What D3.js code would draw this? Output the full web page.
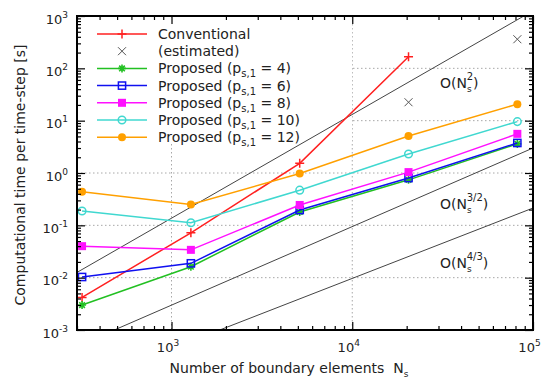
<!DOCTYPE html>
<html>
<head>
<meta charset="utf-8">
<script src="https://cdn.jsdelivr.net/npm/d3@7"></script>
<style>
  body { margin: 0; background: #fff; }
  #chart { width: 548px; height: 381px; }
  text { font-family: "DejaVu Sans", sans-serif; fill: #222; }
</style>
</head>
<body>
<div id="chart"></div>
<script>
// data
const Ns = [320, 1280, 5120, 20480, 81920];
const conventional = [0.0042, 0.072, 1.53, 167];
const estimatedNs = [20480, 81920];
const estimated = [22.5, 360];
const proposedP4 = [0.0030, 0.0162, 0.18, 0.74, 3.6];
const proposedP6 = [0.0103, 0.0188, 0.196, 0.80, 3.75];
const proposedP8 = [0.040, 0.034, 0.245, 1.04, 5.6];
const proposedP10 = [0.188, 0.112, 0.47, 2.3, 9.6];
const proposedP12 = [0.44, 0.25, 0.98, 5.1, 20.7];
const proposedP = ["4", "6", "8", "10", "12"];

const xTickValues = [1e3, 1e4, 1e5];
const yTickValues = [1e-3, 1e-2, 1e-1, 1e0, 1e1, 1e2, 1e3];
const xTickExp = ["3", "4", "5"];
const yTickExp = ["-3", "-2", "-1", "0", "1", "2", "3"];

// guide lines O(Ns^k), two end points each
const orderLabels = ["2", "3/2", "4/3"];
const orderLineN = [[300, 1e5], [300, 1e5], [1848, 1e5]];
const orderLineT = [[0.0126, 1260], [4.9e-4, 3.0], [1e-3, 0.214]];

class ScalingChart {
  colorPalette = {
    conventional: "#ff2020",
    estimated: "#555555",
    p4: "#22c022",
    p6: "#1010f0",
    p8: "#ff10ff",
    p10: "#40d8d0",
    p12: "#ffa000",
    guide: "#444444",
    grid: "#a8a8a8",
    border: "#000000",
  };

  config = {
    marginLeft: 77,
    marginTop: 16,
    marginRight: 15,
    marginBottom: 51,
    majorTick: 8,
    minorTick: 4,
    legendX: 97,
    legendY: 34,
    legendRow: 17.2,
    legendLine: 50,
    orderLabelX: 440,
    orderLabelY: [88, 209, 268],
  };

  constructor(id, width, height) {
    this._id = id;
    this._width = width;
    this._height = height;
    this._chartWidth = width - (this.config.marginLeft + this.config.marginRight);
    this._chartHeight = height - (this.config.marginTop + this.config.marginBottom);
  }

  SetupLayout() {
    this._svg = d3.select(`#${this._id}`)
      .append("svg")
      .attr("width", this._width)
      .attr("height", this._height);
    this._svg.append("defs").append("clipPath").attr("id", "plotClip")
      .append("rect")
      .attr("width", this._chartWidth)
      .attr("height", this._chartHeight);
    this._g = this._svg.append("g")
      .attr("transform", `translate(${this.config.marginLeft},${this.config.marginTop})`);
  }

  SetupScales() {
    this._x = d3.scaleLog().domain([300, 1e5]).range([0, this._chartWidth]);
    this._y = d3.scaleLog().domain([1e-3, 1e3]).range([this._chartHeight, 0]);
  }

  MinorTicks(domain) {
    let ticks = [];
    let lo = Math.floor(Math.log10(domain[0]));
    let hi = Math.ceil(Math.log10(domain[1]));
    for (let e = lo; e < hi; e++) {
      for (let m = 2; m <= 9; m++) {
        let v = m * Math.pow(10, e);
        if (v >= domain[0] && v <= domain[1]) ticks.push(v);
      }
    }
    return ticks;
  }

  DrawGrid() {
    let grid = this._g.append("g").attr("class", "grid");
    grid.selectAll(".gx")
      .data(xTickValues.filter((d) => d < 1e5))
      .enter()
      .append("line")
      .attr("x1", (d) => this._x(d))
      .attr("x2", (d) => this._x(d))
      .attr("y1", 0)
      .attr("y2", this._chartHeight);
    grid.selectAll(".gy")
      .data(yTickValues.slice(1, -1))
      .enter()
      .append("line")
      .attr("x1", 0)
      .attr("x2", this._chartWidth)
      .attr("y1", (d) => this._y(d))
      .attr("y2", (d) => this._y(d));
    grid.selectAll("line")
      .attr("stroke", this.colorPalette.grid)
      .attr("stroke-width", 1)
      .attr("stroke-dasharray", "1.5,2.5");

    // the key sits on a white patch that hides the grid
    this._g.append("rect")
      .attr("x", 3)
      .attr("y", 4)
      .attr("width", 272)
      .attr("height", 123)
      .attr("fill", "#fff");
  }

  DrawGuides() {
    let line = d3.line().x((d) => this._x(d[0])).y((d) => this._y(d[1]));
    let guides = this._g.append("g").attr("clip-path", "url(#plotClip)");
    orderLabels.forEach((lab, i) => {
      let pts = orderLineN[i].map((n, j) => [n, orderLineT[i][j]]);
      guides.append("path")
        .attr("d", line(pts))
        .attr("fill", "none")
        .attr("stroke", this.colorPalette.guide)
        .attr("stroke-width", 1);
    });

    orderLabels.forEach((lab, i) => {
      let t = this._svg.append("text")
        .attr("x", this.config.orderLabelX)
        .attr("y", this.config.orderLabelY[i])
        .style("font-size", "14px");
      t.append("tspan").text("O(N");
      t.append("tspan").attr("dy", 4).style("font-size", "9px").text("s");
      t.append("tspan").attr("dx", -5).attr("dy", -12).style("font-size", "10px").text(lab);
      t.append("tspan").attr("dy", 8).text(")");
    });
  }

  Marker(sel, type, color, size) {
    let s = size;
    if (type === "plus") {
      sel.append("path").attr("d", `M${-s},0H${s}M0,${-s}V${s}`)
        .attr("stroke", color).attr("stroke-width", 1.5).attr("fill", "none");
    } else if (type === "cross") {
      sel.append("path").attr("d", `M${-s},${-s}L${s},${s}M${-s},${s}L${s},${-s}`)
        .attr("stroke", color).attr("stroke-width", 1).attr("fill", "none");
    } else if (type === "star") {
      sel.append("path")
        .attr("d", `M${-s},0H${s}M0,${-s}V${s}M${-s * 0.7},${-s * 0.7}L${s * 0.7},${s * 0.7}M${-s * 0.7},${s * 0.7}L${s * 0.7},${-s * 0.7}`)
        .attr("stroke", color).attr("stroke-width", 1.6).attr("fill", "none");
    } else if (type === "square") {
      sel.append("rect").attr("x", -s).attr("y", -s).attr("width", 2 * s).attr("height", 2 * s)
        .attr("fill", "#fff").attr("fill-opacity", 0).attr("stroke", color).attr("stroke-width", 1.5);
    } else if (type === "squareFilled") {
      sel.append("rect").attr("x", -s).attr("y", -s).attr("width", 2 * s).attr("height", 2 * s)
        .attr("fill", color);
    } else if (type === "circle") {
      sel.append("circle").attr("r", s).attr("fill", "none")
        .attr("stroke", color).attr("stroke-width", 1.5);
    } else if (type === "circleFilled") {
      sel.append("circle").attr("r", s).attr("fill", color);
    }
  }

  SeriesList() {
    return [
      { key: "conventional", n: Ns.slice(0, conventional.length), v: conventional, marker: "plus", size: 4.5, line: true },
      { key: "estimated", n: estimatedNs, v: estimated, marker: "cross", size: 4, line: false },
      { key: "p4", n: Ns, v: proposedP4, marker: "star", size: 4, line: true },
      { key: "p6", n: Ns, v: proposedP6, marker: "square", size: 3.6, line: true },
      { key: "p8", n: Ns, v: proposedP8, marker: "squareFilled", size: 4, line: true },
      { key: "p10", n: Ns, v: proposedP10, marker: "circle", size: 3.8, line: true },
      { key: "p12", n: Ns, v: proposedP12, marker: "circleFilled", size: 4, line: true },
    ];
  }

  DrawSeries() {
    let line = d3.line().x((d) => this._x(d[0])).y((d) => this._y(d[1]));
    let layer = this._g.append("g").attr("clip-path", "url(#plotClip)");
    this.SeriesList().forEach((s) => {
      let color = this.colorPalette[s.key];
      let pts = s.n.map((n, i) => [n, s.v[i]]);
      if (s.line) {
        layer.append("path")
          .attr("d", line(pts))
          .attr("fill", "none")
          .attr("stroke", color)
          .attr("stroke-width", 1.5);
      }
      pts.forEach((p) => {
        let m = layer.append("g")
          .attr("transform", `translate(${this._x(p[0])},${this._y(p[1])})`);
        this.Marker(m, s.marker, color, s.size);
      });
    });
  }

  LabelPower(sel, exps) {
    sel.each(function (d, i) {
      let t = d3.select(this).text("");
      t.append("tspan").text("10");
      t.append("tspan").attr("dy", -6).style("font-size", "9px").text(exps[i]);
    });
  }

  DrawAxes() {
    let c = this.config;
    let xMinor = this.MinorTicks(this._x.domain());
    let yMinor = this.MinorTicks(this._y.domain());
    let axes = [
      { axis: d3.axisBottom, scale: this._x, pos: `0,${this._chartHeight}`, sign: -1, major: xTickValues, minor: xMinor },
      { axis: d3.axisTop, scale: this._x, pos: `0,0`, sign: -1, major: xTickValues, minor: xMinor },
      { axis: d3.axisLeft, scale: this._y, pos: `0,0`, sign: -1, major: yTickValues, minor: yMinor },
      { axis: d3.axisRight, scale: this._y, pos: `${this._chartWidth},0`, sign: -1, major: yTickValues, minor: yMinor },
    ];
    axes.forEach((a, i) => {
      let gMinor = this._g.append("g").attr("transform", `translate(${a.pos})`)
        .call(a.axis(a.scale).tickValues(a.minor).tickSize(a.sign * c.minorTick).tickFormat(""));
      let gMajor = this._g.append("g").attr("class", `axis${i}`).attr("transform", `translate(${a.pos})`)
        .call(a.axis(a.scale).tickValues(a.major).tickSize(a.sign * c.majorTick).tickFormat(() => "x"));
      [gMinor, gMajor].forEach((g) => {
        g.selectAll(".domain").remove();
        g.selectAll("line").attr("stroke", this.colorPalette.border).attr("stroke-width", 1.2);
      });
      if (i === 0) {
        gMajor.selectAll("text")
          .style("font-size", "13px")
          .style("font-family", "DejaVu Sans")
          .attr("fill", "#222")
          .attr("text-anchor", "middle")
          .attr("dx", -4)
          .attr("y", 22)
          .attr("dy", 0)
          .call((s) => this.LabelPower(s, xTickExp));
      } else if (i === 2) {
        gMajor.selectAll("text")
          .style("font-size", "13px")
          .style("font-family", "DejaVu Sans")
          .attr("fill", "#222")
          .attr("text-anchor", "end")
          .attr("x", -9)
          .attr("dy", 7)
          .call((s) => this.LabelPower(s, yTickExp));
      } else {
        gMajor.selectAll("text").remove();
      }
    });

    this._g.append("rect")
      .attr("width", this._chartWidth)
      .attr("height", this._chartHeight)
      .attr("fill", "none")
      .attr("stroke", this.colorPalette.border)
      .attr("stroke-width", 2);
  }

  DrawLegend() {
    let c = this.config;
    let labels = ["Conventional", "(estimated)"].concat(proposedP.map((p) => p));
    let legend = this._svg.append("g").attr("class", "legend");
    this.SeriesList().forEach((s, i) => {
      let color = this.colorPalette[s.key];
      let y = c.legendY + i * c.legendRow;
      if (s.line) {
        legend.append("line")
          .attr("x1", c.legendX).attr("x2", c.legendX + c.legendLine)
          .attr("y1", y).attr("y2", y)
          .attr("stroke", color).attr("stroke-width", 1.5);
      }
      let m = legend.append("g").attr("transform", `translate(${c.legendX + c.legendLine / 2},${y})`);
      this.Marker(m, s.marker, color, s.size);

      let t = legend.append("text")
        .attr("x", c.legendX + c.legendLine + 11)
        .attr("y", y + 5)
        .style("font-size", "14px");
      if (i < 2) {
        t.text(labels[i]);
      } else {
        t.append("tspan").text("Proposed (p");
        t.append("tspan").attr("dy", 4).style("font-size", "10px").text("s,1");
        t.append("tspan").attr("dy", -4).text(` = ${labels[i]})`);
      }
    });
  }

  DrawLabels() {
    let xl = this._svg.append("text")
      .attr("x", this.config.marginLeft + this._chartWidth / 2 - 16)
      .attr("y", 373)
      .attr("text-anchor", "middle")
      .style("font-size", "14px")
      .style("white-space", "pre");
    xl.append("tspan").text("Number of boundary elements  N");
    xl.append("tspan").attr("dy", 4).style("font-size", "9px").text("s");

    this._svg.append("text")
      .attr("transform", `translate(25,${this.config.marginTop + this._chartHeight / 2 + 2}) rotate(-90)`)
      .attr("text-anchor", "middle")
      .style("font-size", "14px")
      .text("Computational time per time-step [s]");
  }

  DrawChart() {
    this.SetupLayout();
    this.SetupScales();
    this.DrawGrid();
    this.DrawGuides();
    this.DrawSeries();
    this.DrawAxes();
    this.DrawLegend();
    this.DrawLabels();
  }
}

const chart = new ScalingChart("chart", 548, 381);
chart.DrawChart();
</script>
</body>
</html>
